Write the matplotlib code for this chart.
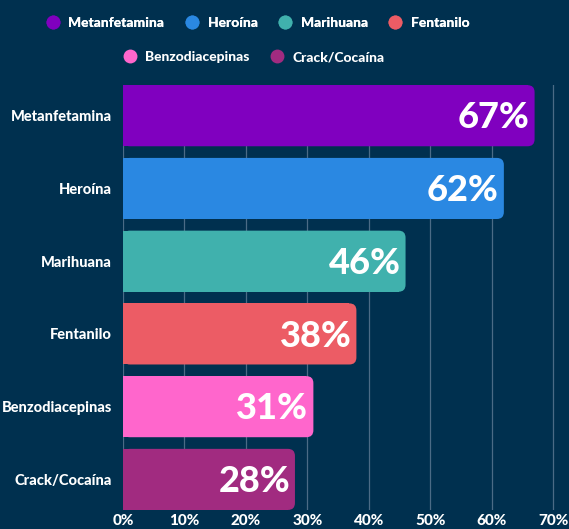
import matplotlib
matplotlib.use("Agg")
from matplotlib import pyplot as plt
from matplotlib.patches import FancyBboxPatch, Rectangle
from matplotlib.lines import Line2D
from matplotlib.transforms import IdentityTransform

BG = "#00304f"
FONT = ["Lato", "DejaVu Sans"]

categories = ["Metanfetamina", "Heroína", "Marihuana", "Fentanilo",
              "Benzodiacepinas", "Crack/Cocaína"]
values = [67, 62, 46, 38, 31, 28]
colors = ["#8000bf", "#2a88e2", "#40b1ad", "#ec5c65", "#ff66cc", "#a12b80"]
xticks = [0, 10, 20, 30, 40, 50, 60, 70]

plt.rcParams["font.family"] = FONT

fig = plt.figure(figsize=(5.69, 5.29), dpi=100, facecolor=BG)
ax = fig.add_axes([0.216, 0.036, 0.784, 0.803])
ax.set_facecolor(BG)

pos = list(range(len(categories)))
bars = ax.barh(pos, values, height=0.84, color=colors)

ax.set_xlim(0, 72.6)
ax.set_ylim(len(categories) - 1 + 0.42, -0.42)

# swap the plain bars for ones rounded on the right side (radius in pixels)
radius = 7
for b, c in zip(bars, colors):
    x, y, w, h = b.get_x(), b.get_y(), b.get_width(), b.get_height()
    b.set_visible(False)
    (px0, py0), (px1, py1) = ax.transData.transform([(x, y), (x + w, y + h)])
    px0, px1 = min(px0, px1), max(px0, px1)
    py0, py1 = min(py0, py1), max(py0, py1)
    ax.add_patch(FancyBboxPatch((px0, py0), px1 - px0, py1 - py0,
                                boxstyle=f"round,pad=0,rounding_size={radius}",
                                transform=IdentityTransform(),
                                facecolor=c, edgecolor="none", zorder=3))
    ax.add_patch(Rectangle((px0, py0), (px1 - px0) - radius, py1 - py0,
                           transform=IdentityTransform(),
                           facecolor=c, edgecolor="none", zorder=3))

for p, v in zip(pos, values):
    ax.text(v - 0.8, p + 0.03, f"{v}%", ha="right", va="center", color="white",
            fontsize=26, fontweight="black", zorder=4)

ax.set_xticks(xticks)
ax.set_xticklabels([f"{t}%" for t in xticks])
ax.set_yticks(pos)
ax.set_yticklabels(categories)
ax.tick_params(axis="x", colors="white", length=0, pad=3, labelsize=11)
ax.tick_params(axis="y", colors="white", length=0, pad=8, labelsize=10.5)
for lab in ax.get_xticklabels() + ax.get_yticklabels():
    lab.set_fontweight("black")

ax.grid(True, axis="x", color="#4b6b86", linewidth=0.9)
ax.set_axisbelow(True)
for s in ax.spines.values():
    s.set_visible(False)

handles = [Line2D([], [], marker="o", linestyle="none", markersize=10,
                  markerfacecolor=c, markeredgecolor="none") for c in colors]

leg_kw = dict(frameon=False, handletextpad=0.1, columnspacing=1.0,
              labelcolor="white", prop={"weight": "black", "size": 10, "family": FONT})
leg1 = fig.legend(handles[:4], categories[:4], ncol=4, loc="center",
                  bbox_to_anchor=(0.447, 0.957), **leg_kw)
fig.add_artist(leg1)
fig.legend(handles[4:], categories[4:], ncol=2, loc="center",
           bbox_to_anchor=(0.44, 0.892), **leg_kw)

fig.savefig("out.png", dpi=100, facecolor=BG)
